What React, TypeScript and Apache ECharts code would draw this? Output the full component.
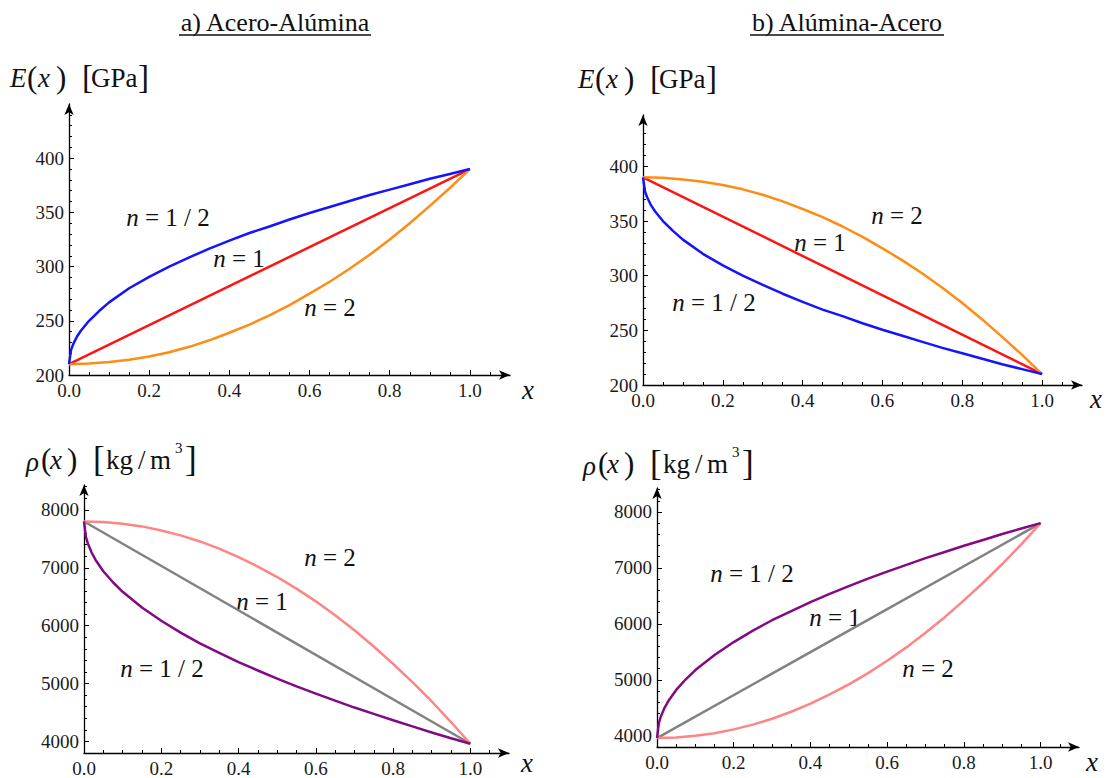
import React, { useEffect, useRef } from "react";
import * as echarts from "echarts";

// ---------- data ----------
const xFine = [0, 0.005, 0.01, 0.02, 0.03, 0.05, 0.075, 0.1, 0.15, 0.2, 0.25, 0.3, 0.35, 0.4, 0.45, 0.5, 0.55, 0.6, 0.65, 0.7, 0.75, 0.8, 0.85, 0.9, 0.95, 1.0];
const xQuad = [0, 0.05, 0.1, 0.15, 0.2, 0.25, 0.3, 0.35, 0.4, 0.45, 0.5, 0.55, 0.6, 0.65, 0.7, 0.75, 0.8, 0.85, 0.9, 0.95, 1.0];
const xEnds = [0, 0.5, 1.0];

// a) Acero-Alúmina, E(x) [GPa]
const eAA_half = [210, 223, 228, 235.5, 241, 250, 259, 267, 280, 290.5, 300, 308.5, 316.5, 324, 331, 337, 343.5, 349.5, 355, 360.5, 366, 371, 376, 381, 385.5, 390];
const eAA_one = [210, 300, 390];
const eAA_two = [210, 210.5, 212, 214, 217, 221, 226, 232, 239, 246.5, 255, 264.5, 275, 286, 298, 311, 325, 340, 356, 372.5, 390];

// b) Alúmina-Acero, E(x) [GPa]
const eBA_half = [390, 377, 372, 364.5, 359, 350, 341, 333, 320, 309.5, 300, 291.5, 283.5, 276, 269, 263, 256.5, 250.5, 245, 239.5, 234, 229, 224, 219, 214.5, 210];
const eBA_one = [390, 300, 210];
const eBA_two = [390, 389.5, 388, 386, 383, 379, 374, 368, 361, 353.5, 345, 335.5, 325, 314, 302, 289, 275, 260, 244, 227.5, 210];

// a) Acero-Alúmina, rho(x) [kg/m3]
const rAA_half = [7800, 7530, 7420, 7260, 7135, 6940, 6750, 6585, 6315, 6085, 5880, 5695, 5530, 5370, 5225, 5085, 4950, 4825, 4705, 4585, 4475, 4365, 4260, 4155, 4055, 3960];
const rAA_one = [7800, 5880, 3960];
const rAA_two = [7800, 7790, 7760, 7715, 7645, 7560, 7455, 7330, 7185, 7020, 6840, 6640, 6420, 6180, 5920, 5640, 5340, 5025, 4690, 4335, 3960];

// b) Alúmina-Acero, rho(x) [kg/m3]
const rBA_half = [3960, 4230, 4345, 4505, 4625, 4820, 5010, 5175, 5445, 5675, 5880, 6065, 6230, 6390, 6535, 6675, 6810, 6935, 7055, 7175, 7285, 7395, 7500, 7605, 7705, 7800];
const rBA_one = [3960, 5880, 7800];
const rBA_two = [3960, 3970, 4000, 4045, 4115, 4200, 4305, 4430, 4575, 4740, 4920, 5120, 5340, 5580, 5840, 6120, 6420, 6735, 7070, 7425, 7800];

// tick values
const xMajorTicks = [0, 0.2, 0.4, 0.6, 0.8, 1.0];
const xMinorTicks = [0.05, 0.1, 0.15, 0.25, 0.3, 0.35, 0.45, 0.5, 0.55, 0.65, 0.7, 0.75, 0.85, 0.9, 0.95, 1.05];
const eMajorTicks = [200, 250, 300, 350, 400];
const eMinorTicks = [210, 220, 230, 240, 260, 270, 280, 290, 310, 320, 330, 340, 360, 370, 380, 390, 410, 420, 430, 440];
const rMajorTicks = [4000, 5000, 6000, 7000, 8000];
const rMinorTicks = [4200, 4400, 4600, 4800, 5200, 5400, 5600, 5800, 6200, 6400, 6600, 6800, 7200, 7400, 7600, 7800, 8200, 8400];

const titles = ["a) Acero-Alúmina", "b) Alúmina-Acero"];
const curveLabels = ["n = 1 / 2", "n = 1", "n = 2"];

// ---------- styling / layout ----------
const F = "Liberation Serif, serif";
const BLUE = "#1414ff";
const RED = "#ff1414";
const ORANGE = "#ff8c14";
const PURPLE = "#820a82";
const GRAY = "#828282";
const PINK = "#ff8484";

const toPairs = (xs: number[], ys: number[]) => xs.map((x, i) => [x, ys[i]]);

const panels = [
  {
    left: 69, top: 104, width: 441, height: 271, yMin: 200, yMax: 450,
    yMajor: eMajorTicks, yMinor: eMinorTicks,
    series: [
      { xs: xEnds, ys: eAA_one, color: RED },
      { xs: xQuad, ys: eAA_two, color: ORANGE },
      { xs: xFine, ys: eAA_half, color: BLUE },
    ],
  },
  {
    left: 643, top: 115, width: 439, height: 270, yMin: 200, yMax: 447,
    yMajor: eMajorTicks, yMinor: eMinorTicks,
    series: [
      { xs: xEnds, ys: eBA_one, color: RED },
      { xs: xQuad, ys: eBA_two, color: ORANGE },
      { xs: xFine, ys: eBA_half, color: BLUE },
    ],
  },
  {
    left: 84, top: 485, width: 425, height: 268, yMin: 3800, yMax: 8430,
    yMajor: rMajorTicks, yMinor: rMinorTicks,
    series: [
      { xs: xEnds, ys: rAA_one, color: GRAY },
      { xs: xQuad, ys: rAA_two, color: PINK },
      { xs: xFine, ys: rAA_half, color: PURPLE },
    ],
  },
  {
    left: 657, top: 488, width: 422, height: 259, yMin: 3800, yMax: 8428,
    yMajor: rMajorTicks, yMinor: rMinorTicks,
    series: [
      { xs: xEnds, ys: rBA_one, color: GRAY },
      { xs: xQuad, ys: rBA_two, color: PINK },
      { xs: xFine, ys: rBA_half, color: PURPLE },
    ],
  },
];

const axisLineStyle = {
  show: true,
  onZero: false,
  symbol: ["none", "arrow"],
  symbolSize: [7, 11],
  lineStyle: { color: "#000", width: 1.3 },
};
const labelStyle = { fontFamily: F, fontSize: 19, color: "#1a1a1a" };

function txt(x: number, y: number, text: string, size: number, opts: any = {}) {
  return {
    type: "text",
    x,
    y,
    silent: true,
    style: {
      text,
      fontFamily: F,
      fontSize: size,
      fontStyle: opts.italic ? "italic" : "normal",
      fill: "#111",
      align: opts.align || "left",
      verticalAlign: "middle",
    },
  };
}

function eLabel(dx: number, dy: number) {
  const y = 78 + dy;
  return [
    txt(10 + dx, y, "E", 27, { italic: true }),
    txt(27 + dx, y - 1, "(", 31),
    txt(38 + dx, y, "x", 27, { italic: true }),
    txt(56 + dx, y - 1, ")", 31),
    txt(82 + dx, y - 1, "[", 33),
    txt(91 + dx, y, "GPa", 27),
    txt(138 + dx, y - 1, "]", 33),
  ];
}

function rhoLabel(dx: number, dy: number) {
  const y = 460 + dy;
  return [
    txt(26 + dx, y + 2, "ρ", 27, { italic: true }),
    txt(41 + dx, y - 1, "(", 31),
    txt(50 + dx, y, "x", 27, { italic: true }),
    txt(67 + dx, y - 1, ")", 31),
    txt(93 + dx, y - 1, "[", 35),
    txt(106 + dx, y, "kg", 27),
    txt(138 + dx, y, "/", 27),
    txt(150 + dx, y, "m", 27),
    txt(175 + dx, y - 12, "3", 15),
    txt(185 + dx, y - 1, "]", 35),
  ];
}

function nLabel(cx: number, cy: number, text: string) {
  const rest = text.slice(1);
  return {
    type: "text",
    x: cx,
    y: cy,
    silent: true,
    style: {
      text: "{i|n}{r|" + rest + "}",
      align: "center",
      verticalAlign: "middle",
      rich: {
        i: { fontFamily: F, fontSize: 25, fontStyle: "italic", fill: "#111" },
        r: { fontFamily: F, fontSize: 25, fill: "#111" },
      },
    },
  };
}

function buildOption() {
  const grid: any[] = [];
  const xAxis: any[] = [];
  const yAxis: any[] = [];
  const series: any[] = [];
  panels.forEach((p, i) => {
    grid.push({ left: p.left, top: p.top, width: p.width, height: p.height, containLabel: false, outerBoundsMode: "none" });
    xAxis.push({
      type: "value", gridIndex: i, min: 0, max: 1.1, position: "bottom",
      axisLine: axisLineStyle,
      axisTick: { show: true, inside: true, length: 5, customValues: xMajorTicks, lineStyle: { color: "#000", width: 1 } },
      axisLabel: { ...labelStyle, margin: 6, customValues: xMajorTicks, formatter: (v: number) => v.toFixed(1) },
      splitLine: { show: false },
    });
    xAxis.push({
      type: "value", gridIndex: i, min: 0, max: 1.1, position: "bottom", offset: 0,
      axisLine: { show: false, onZero: false },
      axisTick: { show: true, inside: true, length: 3, customValues: xMinorTicks, lineStyle: { color: "#000", width: 1 } },
      axisLabel: { show: false },
      splitLine: { show: false },
    });
    yAxis.push({
      type: "value", gridIndex: i, min: p.yMin, max: p.yMax, position: "left",
      axisLine: axisLineStyle,
      axisTick: { show: true, inside: true, length: 5, customValues: p.yMajor, lineStyle: { color: "#000", width: 1 } },
      axisLabel: { ...labelStyle, margin: 5, customValues: p.yMajor, formatter: (v: number) => String(v) },
      splitLine: { show: false },
    });
    yAxis.push({
      type: "value", gridIndex: i, min: p.yMin, max: p.yMax, position: "left", offset: 0,
      axisLine: { show: false, onZero: false },
      axisTick: { show: true, inside: true, length: 3, customValues: p.yMinor, lineStyle: { color: "#000", width: 1 } },
      axisLabel: { show: false },
      splitLine: { show: false },
    });
    p.series.forEach((s) => {
      series.push({
        type: "line",
        xAxisIndex: 2 * i,
        yAxisIndex: 2 * i,
        data: toPairs(s.xs, s.ys),
        showSymbol: false,
        symbol: "none",
        smooth: false,
        lineStyle: { color: s.color, width: 2.5, join: "round" },
        silent: true,
      });
    });
  });

  const graphic: any[] = [
    txt(275, 22, titles[0], 26, { align: "center" }),
    { type: "line", silent: true, shape: { x1: 179, y1: 35, x2: 371, y2: 35 }, style: { stroke: "#111", lineWidth: 1.3 } },
    txt(847, 22, titles[1], 26, { align: "center" }),
    { type: "line", silent: true, shape: { x1: 750, y1: 35, x2: 944, y2: 35 }, style: { stroke: "#111", lineWidth: 1.3 } },
    ...eLabel(0, 0),
    ...eLabel(568, 1),
    ...rhoLabel(0, 0),
    ...rhoLabel(557, 4),
    txt(528, 390, "x", 27, { italic: true, align: "center" }),
    txt(1096, 399, "x", 27, { italic: true, align: "center" }),
    txt(527, 763, "x", 27, { italic: true, align: "center" }),
    txt(1092, 762, "x", 27, { italic: true, align: "center" }),
    // curve labels
    nLabel(168, 217, curveLabels[0]),
    nLabel(239, 258, curveLabels[1]),
    nLabel(330, 307, curveLabels[2]),
    nLabel(714, 302, curveLabels[0]),
    nLabel(820, 242, curveLabels[1]),
    nLabel(897, 215, curveLabels[2]),
    nLabel(162, 668, curveLabels[0]),
    nLabel(262, 601, curveLabels[1]),
    nLabel(330, 557, curveLabels[2]),
    nLabel(752, 573, curveLabels[0]),
    nLabel(835, 617, curveLabels[1]),
    nLabel(928, 668, curveLabels[2]),
  ];

  return {
    animation: false,
    backgroundColor: "#ffffff",
    grid,
    xAxis,
    yAxis,
    series,
    graphic,
  };
}

export default function App() {
  const ref = useRef<HTMLDivElement>(null);
  useEffect(() => {
    if (!ref.current) return;
    const chart = echarts.init(ref.current, undefined, { renderer: "svg" });
    chart.setOption(buildOption() as any);
    return () => chart.dispose();
  }, []);
  return (
    <div
      ref={ref}
      style={{ position: "absolute", left: 0, top: 0, width: 1107, height: 778, background: "#fff" }}
    />
  );
}
